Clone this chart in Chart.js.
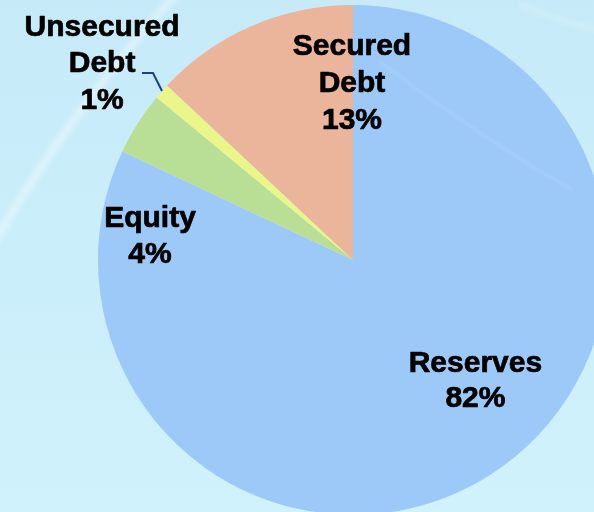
<!doctype html>
<html>
<head>
    <title>Funding Mix</title>
    <script src="https://cdn.jsdelivr.net/npm/chart.js"></script>
    <style>
        html, body { margin: 0; padding: 0; overflow: hidden; width: 594px; height: 512px; }
        #wrap { position: absolute; left: 0; top: 0; width: 620px; height: 520px; }
    </style>
</head>
<body>
    <div id="wrap"><canvas id="myChart" width="620" height="520"></canvas></div>

    <script>
        var labels = ['Reserves', 'Equity', 'Unsecured Debt', 'Secured Debt'];
        var shares = [82, 4, 1, 13];
        var colors = ['#9DC9F9', '#B8DF95', '#EAF68A', '#EBB59B'];

        // label text lines; x / first baseline given as fractions of the radius from the centre
        var labelLines = [
            ['Reserves', '82%'],
            ['Equity', '4%'],
            ['Unsecured', 'Debt', '1%'],
            ['Secured', 'Debt', '13%']
        ];
        var labelSpots = [
            { x: 0.480, y: 0.438, gap: 35 },
            { x: -0.796, y: -0.129, gap: 36 },
            { x: -0.984, y: -0.880, gap: 36.5 },
            { x: -0.004, y: -0.804, gap: 37 }
        ];

        var backdrop = {
            id: 'backdrop',
            beforeDraw: function(chart) {
                var c = chart.ctx;
                c.save();
                var g = c.createLinearGradient(0, 0, 0, 512);
                g.addColorStop(0, '#C6EAF8');
                g.addColorStop(1, '#CFF2FC');
                c.fillStyle = g;
                c.fillRect(0, 0, chart.width, chart.height);
                // soft light streak across the upper left
                c.lineCap = 'round';
                c.strokeStyle = 'rgba(255,255,255,0.45)';
                c.lineWidth = 7;
                c.filter = 'blur(3px)';
                c.beginPath();
                c.moveTo(-10, 250);
                c.quadraticCurveTo(70, 110, 180, -10);
                c.stroke();
                c.strokeStyle = 'rgba(255,255,255,0.18)';
                c.lineWidth = 6;
                c.beginPath();
                c.moveTo(520, 5);
                c.quadraticCurveTo(570, 25, 620, 35);
                c.stroke();
                c.restore();
            }
        };

        var sliceLabels = {
            id: 'sliceLabels',
            afterDraw: function(chart) {
                var c = chart.ctx;
                var arc = chart.getDatasetMeta(0).data[0];
                var cx = arc.x, cy = arc.y, r = arc.outerRadius;
                c.save();
                // faint sheen over the blue slice
                c.strokeStyle = 'rgba(255,255,255,0.08)';
                c.lineWidth = 3;
                c.filter = 'blur(1px)';
                c.beginPath();
                c.moveTo(cx + 25, cy - 200);
                c.quadraticCurveTo(cx + 130, cy - 120, cx + 220, cy - 70);
                c.stroke();
                c.filter = 'none';

                // leader for the small slice
                c.strokeStyle = '#1E3F8F';
                c.lineWidth = 2;
                c.beginPath();
                c.moveTo(142, 73);
                c.lineTo(153, 73);
                c.lineTo(162, 91);
                c.stroke();

                c.fillStyle = '#000000';
                c.strokeStyle = '#000000';
                c.lineWidth = 0.7;
                c.lineJoin = 'round';
                c.font = 'bold 30px "Liberation Sans", Arial, sans-serif';
                c.textAlign = 'center';
                c.textBaseline = 'alphabetic';
                labelLines.forEach(function(lines, i) {
                    var s = labelSpots[i];
                    var x = cx + s.x * r;
                    var y0 = cy + s.y * r;
                    lines.forEach(function(t, k) {
                        c.fillText(t, x, y0 + k * s.gap);
                        c.strokeText(t, x, y0 + k * s.gap);
                    });
                });
                c.restore();
            }
        };

        var ctx = document.getElementById('myChart').getContext('2d');
        var chart = new Chart(ctx, {
            type: 'pie',
            data: {
                labels: labels,
                datasets: [{
                    data: shares,
                    backgroundColor: colors,
                    borderWidth: 0
                }]
            },
            options: {
                responsive: false,
                animation: false,
                layout: { padding: { left: 98, right: 12, top: 5, bottom: 5 } },
                plugins: {
                    legend: { display: false },
                    tooltip: { enabled: false }
                }
            },
            plugins: [backdrop, sliceLabels]
        });
    </script>
</body>
</html>
